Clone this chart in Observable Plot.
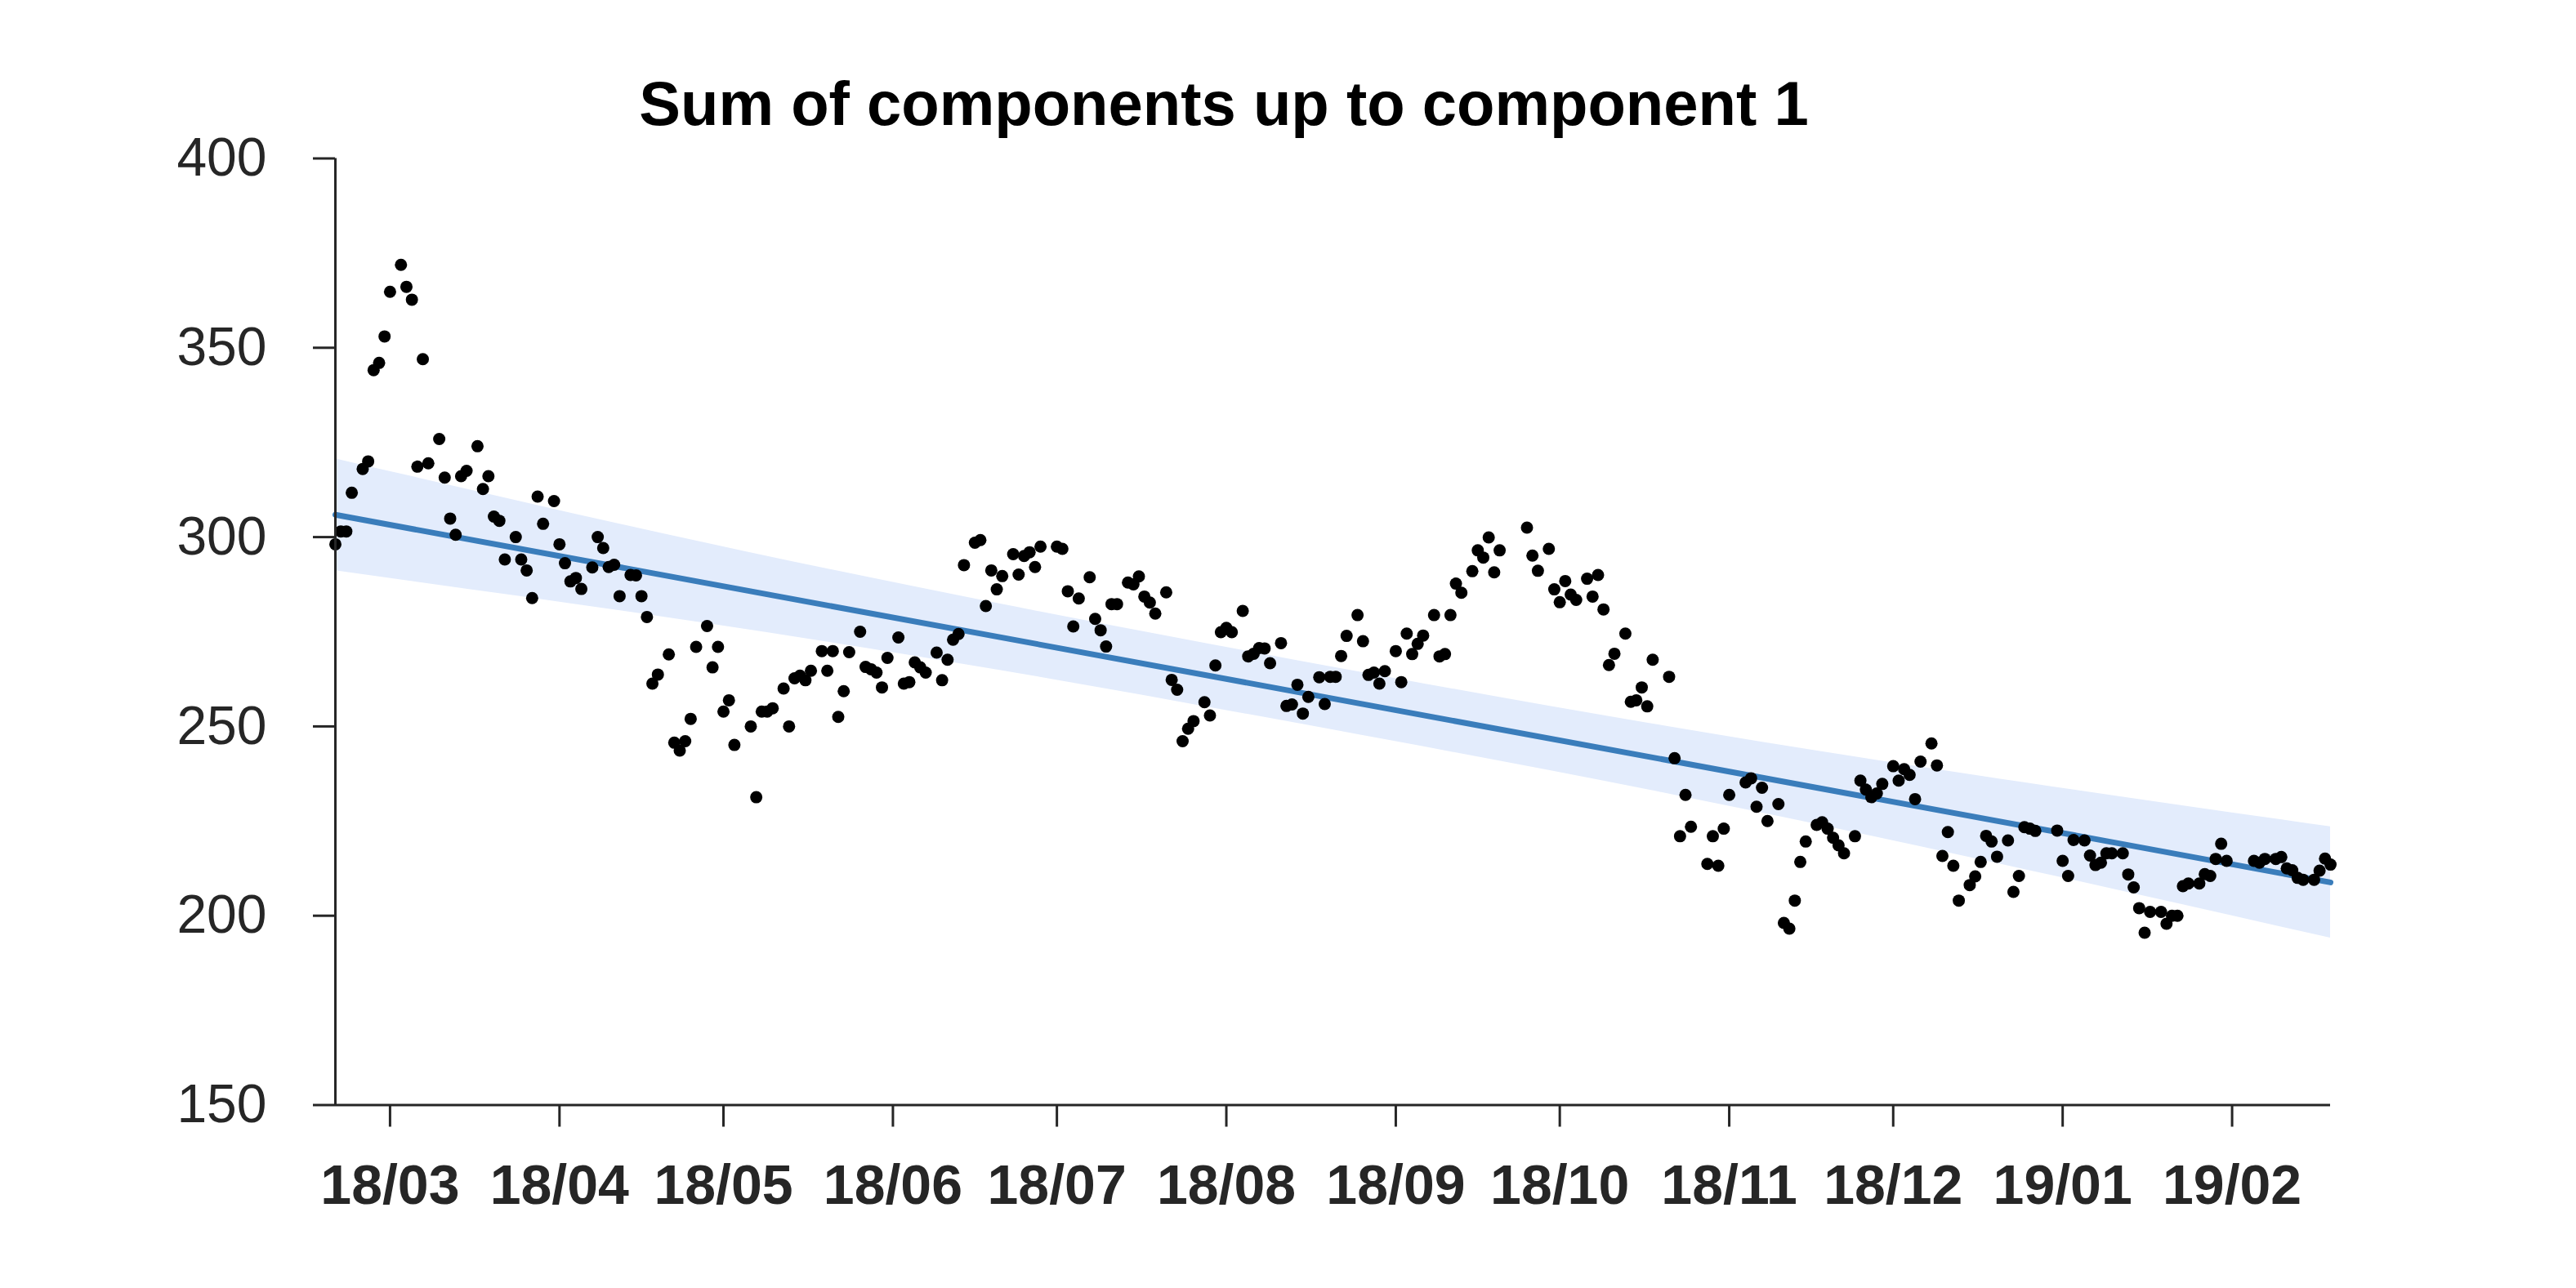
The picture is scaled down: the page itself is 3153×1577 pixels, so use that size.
<!DOCTYPE html>
<html><head><meta charset="utf-8">
<script src="https://cdn.jsdelivr.net/npm/d3@7"></script>
<script src="https://cdn.jsdelivr.net/npm/@observablehq/plot@0.6"></script>
<style>
html,body{margin:0;padding:0;background:#fff;}
#wrap{position:relative;width:3153px;height:1577px;}
#title{position:absolute;left:0;top:89px;width:2996px;text-align:center;font-family:"Liberation Sans",Arial,sans-serif;font-weight:bold;font-size:76px;line-height:1;color:#000;}
#chart{position:absolute;left:0;top:0;}
</style></head>
<body><div id="wrap"><div id="chart"></div><div id="title">Sum of components up to component 1</div></div>
<script>
// ---- data ----
const startDate = "2018-02-19";
const dayOffsets = [
0,1,2,3,5,6,7,8,9,10,12,13,14,15,16,17,19,20,21,22,23,24,26,27,28,29,30,31,33,34,35,36,37,38,40,41,42,43,44,45,47,48,49,50,51,52,54,55,56,57,58,59,
61,62,63,64,65,66,68,69,70,71,72,73,76,77,78,79,80,82,83,84,85,86,87,89,90,91,92,93,94,96,97,98,99,100,101,103,104,105,106,107,108,110,111,112,113,114,115,117,118,
119,120,121,122,124,125,126,127,128,129,132,133,134,135,136,138,139,140,141,142,143,145,146,147,148,149,150,152,153,154,155,156,157,159,160,161,162,163,164,166,167,168,169,170,171,173,174,175,176,177,178,
180,181,182,183,184,185,187,188,189,190,191,192,194,195,196,197,198,199,201,202,203,204,205,206,208,209,210,211,212,213,218,219,220,222,223,224,225,226,227,229,230,231,232,233,234,236,237,238,239,240,241,
244,245,246,247,248,251,252,253,254,255,258,259,260,261,262,264,265,266,267,268,269,271,272,273,274,275,276,278,279,280,281,282,283,285,286,287,288,289,290,292,293,294,295,296,297,299,300,301,
302,303,304,306,307,308,309,310,311,315,316,317,318,320,321,322,323,324,325,327,328,329,330,331,332,334,335,336,337,338,339,341,342,343,344,345,346,351,352,353,355,356,357,358,359,360,362,363,364,365
];
const values = [
298.1,301.5,301.5,311.7,318.0,320.0,344.1,346.0,353.0,364.8,371.9,366.1,362.7,318.6,347.0,319.5,325.9,315.7,304.9,300.6,316.1,317.5,324.0,312.7,316.1,305.4,304.3,294.1,300.0,294.1,291.2,283.9,310.7,303.5,309.5,298.1,293.1,288.3,289.2,286.3,292.0,300.0,297.1,292.1,292.7,284.4,290.0,289.9,284.4,278.9,261.3,263.7,
269.0,245.7,243.6,246.1,252.0,271.0,276.5,265.6,271.0,253.9,256.9,245.1,250.0,231.3,253.9,253.9,254.8,260.0,250.0,262.7,263.4,262.2,264.7,269.9,264.7,269.9,252.5,259.3,269.6,275.0,265.7,265.1,264.2,260.3,268.1,273.5,261.3,261.7,266.9,265.6,264.2,269.5,262.2,267.6,272.9,274.4,292.6,298.5,299.2,
281.8,291.2,286.2,289.7,295.5,290.1,295.0,296.0,292.1,297.5,297.5,296.9,285.7,276.4,283.8,289.4,278.4,275.4,271.1,282.3,282.3,288.0,287.5,289.6,284.3,282.7,279.8,285.4,262.3,259.7,246.1,249.4,251.4,256.4,252.9,266.1,274.9,276.0,274.9,280.5,268.5,269.2,270.7,270.6,266.7,272.0,255.4,255.8,261.0,253.4,257.8,
263.0,255.9,263.1,263.1,268.6,273.9,279.4,272.5,263.6,264.2,261.3,264.6,269.9,261.7,274.5,269.1,271.8,274.0,279.4,268.5,269.1,279.4,287.7,285.3,291.0,296.5,294.6,299.9,290.7,296.5,302.5,295.1,291.1,296.9,286.2,282.8,288.4,284.8,283.4,289.0,284.3,290.0,280.9,266.2,269.2,274.5,256.5,256.9,260.3,255.3,267.6,
263.1,241.6,221.0,231.9,223.5,213.7,221.0,213.2,223.0,231.9,235.2,236.3,228.8,233.8,225.0,229.5,198.1,196.6,204.0,214.2,219.6,224.0,224.7,223.0,220.6,218.6,216.5,221.0,235.7,233.3,231.3,232.3,234.8,239.5,235.7,238.7,237.2,230.8,240.7,245.5,239.7,215.8,222.1,213.2,204.0,208.1,210.4,214.2,
221.1,219.6,215.6,219.9,206.3,210.5,223.4,223.0,222.4,222.5,214.5,210.5,220.0,219.9,215.9,213.4,214.0,216.5,216.5,216.5,210.9,207.5,202.0,195.5,201.0,201.0,197.9,200.0,200.0,207.8,208.5,208.5,211.0,210.5,215.0,219.0,214.5,214.5,214.0,215.0,215.0,215.5,212.5,212.0,210.0,209.5,209.5,211.9,215.1,213.5
];
// trend line and shaded band, read at a few days
const trendDays = [0, 365];
const trendValues = [305.9, 208.8];
const bandDays = [0, 60, 120, 182, 240, 300, 365];
const bandUpper = [320.7, 300.9, 282.8, 265.8, 250.9, 237.1, 223.5];
const bandLower = [291.1, 278.9, 265.2, 249.2, 233.3, 215.1, 194.1];
const yTicks = [150, 200, 250, 300, 350, 400];
const xTickDates = ["2018-03-01","2018-04-01","2018-05-01","2018-06-01","2018-07-01","2018-08-01","2018-09-01","2018-10-01","2018-11-01","2018-12-01","2019-01-01","2019-02-01"];

// ---- build ----
const start = new Date(startDate + "T00:00:00Z");
const toDate = d => new Date(start.getTime() + d * 86400000);
const points = dayOffsets.map((d, i) => ({date: toDate(d), value: values[i]}));
const trend = trendDays.map((d, i) => ({date: toDate(d), value: trendValues[i]}));
const band = bandDays.map((d, i) => ({date: toDate(d), lo: bandLower[i], hi: bandUpper[i]}));
const xTicks = xTickDates.map(s => new Date(s + "T00:00:00Z"));
const axisColor = "#262626";

const chart = Plot.plot({
  width: 3153, height: 1577,
  marginLeft: 410, marginRight: 301, marginTop: 193.5, marginBottom: 224.5,
  x: {type: "utc", domain: [toDate(trendDays[0]), toDate(trendDays[1])]},
  y: {domain: [yTicks[0], yTicks[yTicks.length - 1]]},
  style: {fontFamily: '"Liberation Sans", Arial, sans-serif', background: "transparent", color: axisColor},
  marks: [
    Plot.areaY(band, {x: "date", y1: "lo", y2: "hi", fill: "#e3ecfc", curve: "natural"}),
    Plot.line(trend, {x: "date", y: "value", stroke: "#3a7dbb", strokeWidth: 7, strokeLinecap: "round"}),
    Plot.dot(points, {x: "date", y: "value", r: 7.5, fill: "#000", stroke: "none"}),
    Plot.axisX({ticks: xTicks, tickFormat: d3.utcFormat("%y/%m"), tickSize: 27, tickPadding: 46, fontSize: 68, fontWeight: "bold", stroke: axisColor, strokeWidth: 3, label: null}),
    Plot.axisY({ticks: yTicks, tickSize: 27, tickPadding: 57, fontSize: 66, stroke: axisColor, strokeWidth: 3, label: null}),
    Plot.ruleY([yTicks[0]], {stroke: axisColor, strokeWidth: 3}),
    Plot.ruleX([toDate(trendDays[0])], {stroke: axisColor, strokeWidth: 3})
  ]
});
document.getElementById("chart").appendChild(chart);
</script>
</body></html>
